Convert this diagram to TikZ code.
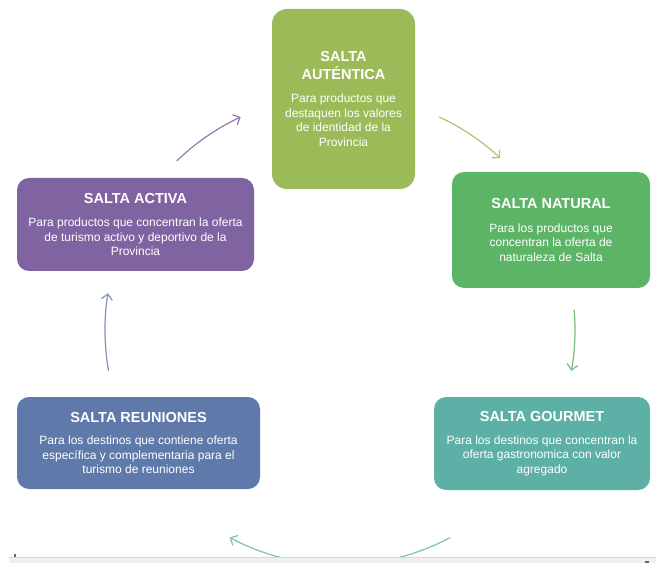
\documentclass[tikz,border=0pt]{standalone}
\usepackage{fontspec}
\setmainfont{Liberation Sans}
\usetikzlibrary{arrows.meta}
\definecolor{autentica}{HTML}{9BBB59}
\definecolor{natural}{HTML}{5CB566}
\definecolor{gourmet}{HTML}{5DB0A5}
\definecolor{reuniones}{HTML}{5F79AA}
\definecolor{activa}{HTML}{8064A2}
\definecolor{band}{HTML}{EFEFEF}
\definecolor{bandline}{HTML}{D6D6D6}
\newcommand{\boxtitle}[1]{{\bfseries\fontsize{14.5}{17}\selectfont #1}}

\begin{document}
\begin{tikzpicture}[x=1pt,y=1pt]
\tikzstyle{every node}+=[inner sep=0pt]
\tikzstyle{salta}=[rounded corners=12pt, text=white, align=center, font=\fontsize{12}{14.5}\selectfont]
\tikzstyle{roundarrow}=[line width=1.2pt, -{Straight Barb[length=5.5pt,width=11pt]}]
\useasboundingbox (0,0) rectangle (656,563);
\coordinate (hub) at (340,233);
\node [salta, fill=autentica, minimum width=143pt, minimum height=180pt, rounded corners=15pt] (autentica) at (343.5,464)
  {\boxtitle{SALTA}\\[3pt]\boxtitle{AUTÉNTICA}\\[9pt]Para productos que\\destaquen los valores\\de identidad de la\\Provincia};
\node [salta, fill=natural, minimum width=198pt, minimum height=116pt] (natural) at (551,333)
  {\boxtitle{SALTA NATURAL}\\[9pt]Para los productos que\\concentran la oferta de\\naturaleza de Salta};
\node [salta, fill=gourmet, minimum width=216pt, minimum height=93pt] (gourmet) at (542,119.5)
  {\boxtitle{SALTA GOURMET}\\[8pt]Para los destinos que concentran la\\oferta gastronomica con valor\\agregado};
\node [salta, fill=reuniones, minimum width=243pt, minimum height=92pt] (reuniones) at (138.5,120)
  {\boxtitle{SALTA REUNIONES}\\[8pt]Para los destinos que contiene oferta\\específica y complementaria para el\\turismo de reuniones};
\node [salta, fill=activa, minimum width=237pt, minimum height=93pt] (activa) at (135.5,338.5)
  {\boxtitle{SALTA ACTIVA}\\[9pt]Para productos que concentran la oferta\\de turismo activo y deportivo de la\\Provincia};
\draw [roundarrow, activa!85] ([shift={(134:235)}]hub) arc [start angle=134, end angle=115, radius=235];
\draw [roundarrow, autentica!85] ([shift={(65:235)}]hub) arc [start angle=65, end angle=47, radius=235];
\draw [roundarrow, natural!85] ([shift={(5:235)}]hub) arc [start angle=5, end angle=-10, radius=235];
\begin{scope}
\clip (0,6) rectangle (656,563);
\draw [roundarrow, gourmet!80] ([shift={(-62:235)}]hub) arc [start angle=-62, end angle=-118, radius=235];
\end{scope}
\draw [roundarrow, reuniones!80] ([shift={(190:235)}]hub) arc [start angle=190, end angle=171, radius=235];
\fill [band] (9,0) rectangle (656,6);
\draw [bandline, line width=1.5pt] (9,5.5) -- (656,5.5);
\draw [black!60, line width=1.5pt] (15,6) -- (15,9);
\draw [black!60, line width=1.5pt] (645,1) -- (649,1);
\end{tikzpicture}
\end{document}
